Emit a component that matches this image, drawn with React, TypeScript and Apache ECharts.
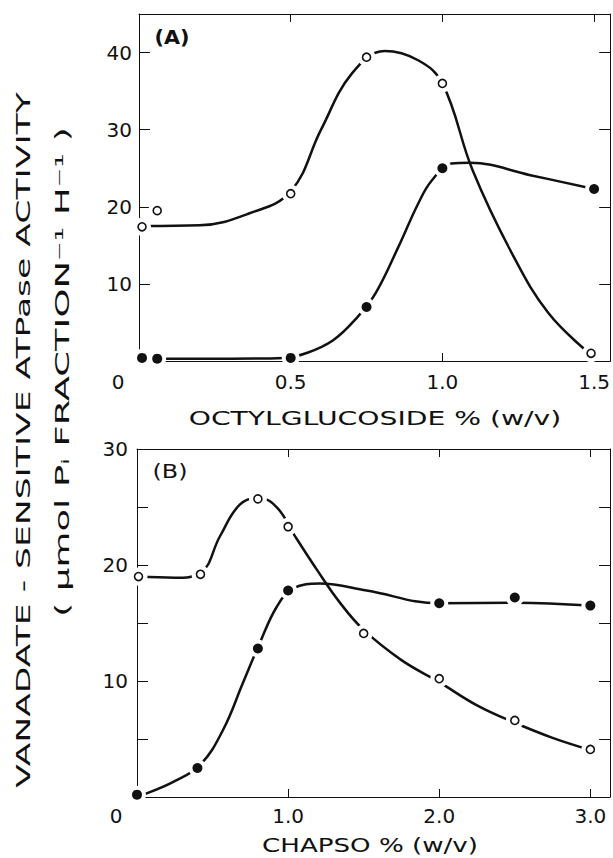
import React, { useEffect, useRef } from 'react';
import * as echarts from 'echarts';

const FONT = '"DejaVu Sans", sans-serif';
const INK = '#111';

// ---------- Panel A : octylglucoside ----------
const aOpenX = [0.01, 0.06, 0.5, 0.75, 1.0, 1.49];
const aOpenY = [17.4, 19.5, 21.7, 39.4, 36.0, 1.0];
const aFilledX = [0.01, 0.06, 0.5, 0.75, 1.0, 1.5];
const aFilledY = [0.4, 0.3, 0.4, 7.0, 25.0, 22.3];
// hand-drawn curves
const aOpenCurve = [
  [0.02, 17.5], [0.2, 17.6], [0.36, 19.1], [0.5, 22.0], [0.6, 30.0], [0.7, 37.2],
  [0.81, 40.2], [0.92, 39.0], [1.0, 36.0], [1.1, 24.7], [1.23, 13.9], [1.35, 6.2],
  [1.49, 0.8],
];
const aFilledCurve = [
  [0.01, 0.4], [0.09, 0.3], [0.3, 0.3], [0.48, 0.4], [0.55, 1.0], [0.64, 2.7],
  [0.72, 5.7], [0.78, 8.8], [0.855, 14.8], [0.92, 20.4], [0.965, 23.4], [1.03, 25.6],
  [1.09, 25.7], [1.29, 24.1], [1.5, 22.3],
];
const aXMax = 1.553;
const aYMax = 45;
const aYLabels = [10, 20, 30, 40];

// ---------- Panel B : CHAPSO ----------
const bOpenX = [0.01, 0.42, 0.8, 1.0, 1.5, 2.0, 2.5, 3.0];
const bOpenY = [19.0, 19.2, 25.7, 23.3, 14.1, 10.2, 6.6, 4.1];
const bFilledX = [0.0, 0.4, 0.8, 1.0, 2.0, 2.5, 3.0];
const bFilledY = [0.2, 2.5, 12.8, 17.8, 16.7, 17.2, 16.5];
const bOpenCurve = [
  [0.01, 19.0], [0.25, 18.9], [0.42, 19.3], [0.55, 22.5], [0.68, 25.2], [0.81, 25.8],
  [0.93, 24.9], [1.04, 22.6], [1.19, 19.6], [1.34, 16.8], [1.5, 14.4], [1.75, 11.8],
  [2.0, 9.9], [2.25, 7.9], [2.5, 6.4], [2.75, 5.1], [3.0, 4.05],
];
const bFilledCurve = [
  [0.01, 0.2], [0.06, 0.3], [0.24, 1.3], [0.42, 2.8], [0.57, 5.8], [0.7, 9.8],
  [0.81, 13.2], [0.925, 16.4], [1.035, 18.0], [1.21, 18.4], [1.52, 17.8], [2.0, 16.7],
  [2.51, 16.75], [3.0, 16.5],
];
const bXMax = 3.13;
const bYMax = 30;
const bYLabels = [10, 20, 30];

// ---------- texts ----------
const aXTitle = 'OCTYLGLUCOSIDE % (w/v)';
const bXTitle = 'CHAPSO % (w/v)';
const yTitle1 = 'VANADATE - SENSITIVE ATPase ACTIVITY';
const yTitle2 = '( μmol Pᵢ FRACTION⁻¹ H⁻¹ )';
const aTag = '(A)';
const bTag = '(B)';

const zip = (xs: number[], ys: number[]) => xs.map((x, i) => [x, ys[i]]);

function measure(text: string, font: string): number {
  const ctx = document.createElement('canvas').getContext('2d');
  if (!ctx) return text.length * 12;
  ctx.font = font;
  return ctx.measureText(text).width;
}

function stretchedText(text: string, cx: number, cy: number, size: number, target: number, vertical: boolean, bold = false) {
  const font = `${bold ? 'bold ' : ''}${size}px "DejaVu Sans"`;
  const w = measure(text, font);
  return {
    type: 'text',
    x: cx,
    y: cy,
    rotation: vertical ? Math.PI / 2 : 0,
    scaleX: target / w,
    scaleY: 1,
    silent: true,
    style: {
      text,
      x: 0,
      y: 0,
      fill: INK,
      font: `${bold ? 'bold ' : ''}${size}px ${FONT}`,
      align: 'center',
      verticalAlign: 'middle',
      textAlign: 'center',
      textVerticalAlign: 'middle',
    },
  };
}

function xAxes(gridIndex: number, max: number, interval: number, margin: number) {
  const line = { show: true, onZero: false, lineStyle: { color: INK, width: 1 } };
  const tick = { show: true, inside: true, length: 8, lineStyle: { color: INK, width: 1 } };
  return [
    {
      type: 'value', gridIndex, position: 'bottom', min: 0, max, interval,
      axisLine: line, axisTick: tick, splitLine: { show: false },
      axisLabel: {
        margin, fontSize: 20, fontFamily: FONT, color: INK, showMaxLabel: false,
        formatter: (v: number) => (v === 0 ? '{z|0}' : Math.abs(v / interval - Math.round(v / interval)) < 1e-6 ? v.toFixed(1) : ''),
        rich: { z: { padding: [0, 42, 0, 0], fontSize: 20, fontFamily: FONT, color: INK } },
      },
    },
    {
      type: 'value', gridIndex, position: 'top', min: 0, max, interval,
      axisLine: line, axisTick: tick, splitLine: { show: false }, axisLabel: { show: false },
    },
  ];
}

function yAxes(gridIndex: number, max: number, interval: number, margin: number, labels: number[]) {
  const line = { show: true, onZero: false, lineStyle: { color: INK, width: 1 } };
  const tick = { show: true, inside: true, length: 11, lineStyle: { color: INK, width: 1 } };
  return [
    {
      type: 'value', gridIndex, position: 'left', min: 0, max, interval,
      axisLine: line, axisTick: tick, splitLine: { show: false },
      axisLabel: {
        margin, fontSize: 20, fontFamily: FONT, color: INK, showMaxLabel: true,
        formatter: (v: number) => (labels.includes(v) ? String(v) : ''),
      },
    },
    {
      type: 'value', gridIndex, position: 'right', min: 0, max, interval,
      axisLine: line, axisTick: tick, splitLine: { show: false }, axisLabel: { show: false },
    },
  ];
}

function panelSeries(xIdx: number, yIdx: number, openPts: number[][], filledPts: number[][], openCurve: number[][], filledCurve: number[][]) {
  const lineBase = {
    type: 'line', xAxisIndex: xIdx, yAxisIndex: yIdx, showSymbol: false, smooth: 0.4,
    lineStyle: { color: INK, width: 2.5, opacity: 1 }, silent: true, z: 2,
  };
  return [
    { ...lineBase, name: 'open curve', data: openCurve },
    { ...lineBase, name: 'filled curve', data: filledCurve },
    {
      type: 'scatter', xAxisIndex: xIdx, yAxisIndex: yIdx, silent: true, z: 3,
      symbol: 'circle', symbolSize: 18, itemStyle: { color: '#ffffff', opacity: 1 },
      data: [...openPts, ...filledPts],
    },
    {
      type: 'scatter', xAxisIndex: xIdx, yAxisIndex: yIdx, silent: true, z: 4,
      symbol: 'circle', symbolSize: 8,
      itemStyle: { color: '#ffffff', borderColor: INK, borderWidth: 1.6, opacity: 1 },
      data: openPts,
    },
    {
      type: 'scatter', xAxisIndex: xIdx, yAxisIndex: yIdx, silent: true, z: 4,
      symbol: 'circle', symbolSize: 10, itemStyle: { color: INK, opacity: 1 },
      data: filledPts,
    },
  ];
}

export default function App() {
  const ref = useRef<HTMLDivElement>(null);
  useEffect(() => {
    if (!ref.current) return;
    const chart = echarts.init(ref.current, undefined, { renderer: 'svg' });
    const option = {
      animation: false,
      backgroundColor: '#fff',
      grid: [
        { left: 139, top: 14, width: 473, height: 347, show: false },
        { left: 137, top: 449, width: 473, height: 348, show: false },
      ],
      xAxis: [...xAxes(0, aXMax, 0.5, 11), ...xAxes(1, bXMax, 1, 9)],
      yAxis: [...yAxes(0, aYMax, 10, 7, aYLabels), ...yAxes(1, bYMax, 5, 9, bYLabels)],
      series: [
        ...panelSeries(0, 0, zip(aOpenX, aOpenY), zip(aFilledX, aFilledY), aOpenCurve, aFilledCurve),
        ...panelSeries(2, 2, zip(bOpenX, bOpenY), zip(bFilledX, bFilledY), bOpenCurve, bFilledCurve),
      ],
      graphic: [
        stretchedText(aXTitle, 375, 419, 19, 373, false),
        stretchedText(bXTitle, 370, 845, 19, 216, false),
        stretchedText(yTitle1, 24, 440, 19, 696, true),
        stretchedText(yTitle2, 63, 372, 19, 490, true),
        stretchedText(aTag, 172, 37, 20, 35, false, true),
        stretchedText(bTag, 170, 471, 20, 35, false),
      ],
    };
    chart.setOption(option as any);
    return () => chart.dispose();
  }, []);
  return (
    <div
      ref={ref}
      style={{ position: 'absolute', left: 0, top: 0, width: 613, height: 858, background: '#fff' }}
    />
  );
}
